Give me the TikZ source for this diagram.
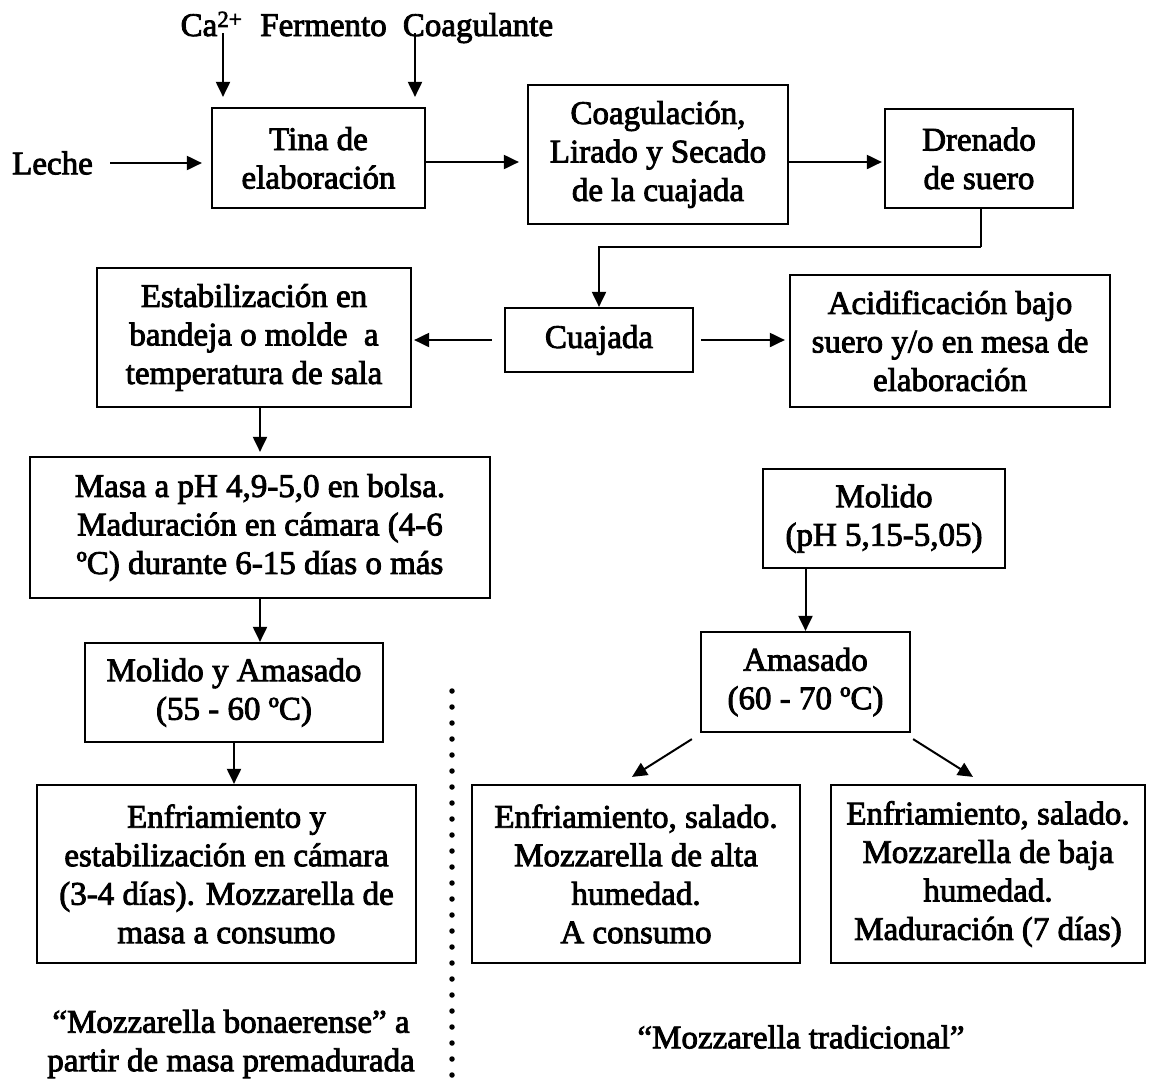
\documentclass[tikz,border=0pt]{standalone}
\usepackage{fontspec}
\setmainfont{Liberation Serif}
\newfontfamily\heavyserif{Liberation Serif}[FakeBold=2.6]
\usetikzlibrary{arrows.meta,calc}

\begin{document}
\begin{tikzpicture}[x=1pt,y=-1pt,
  font=\heavyserif\fontsize{33}{38.5}\selectfont,
  box/.style={draw, line width=2.2pt, align=center, inner sep=0pt},
  label/.style={inner sep=0pt, align=center},
  arr/.style={line width=2pt, -{Triangle[length=15pt,width=14pt]}},
  link/.style={line width=2pt}]
\useasboundingbox (0,0) rectangle (1149,1080);

% top row
\node[label, anchor=base] (ca)    at (211.5,36) {Ca\textsuperscript{2+}};
\node[label, anchor=base] (ferm)  at (323.5,36) {Fermento};
\node[label, anchor=base] (coagl) at (478,36)   {Coagulante};
\node[label] (leche) at (52.5,163) {Leche};

\node[box, minimum width=213, minimum height=100] (tina)  at (318.5,158) {Tina de\\elaboración};
\node[box, minimum width=260, minimum height=139] (coag)  at (658,154.5) {Coagulación,\\Lirado y Secado\\de la cuajada};
\node[box, minimum width=188, minimum height=99]  (dren)  at (979,158.5) {Drenado\\de suero};

% second row
\node[box, minimum width=188, minimum height=64]  (cuaj)  at (599,340)   {Cuajada};
\node[box, minimum width=320, minimum height=132] (acid)  at (950,341)   {Acidificación bajo\\suero y/o en mesa de\\elaboración};
\node[box, minimum width=314, minimum height=139] (estab) at (254,337.5) {Estabilización en\\bandeja o molde\ \ a\\temperatura de sala};

% left branch
\node[box, minimum width=460, minimum height=141] (masa)  at (260,527.5) {Masa a pH 4,9-5,0 en bolsa.\\Maduración en cámara (4-6\\ºC) durante 6-15 días o más};
\node[box, minimum width=298, minimum height=99]  (molam) at (234,692.5) {Molido y Amasado\\(55 - 60 ºC)};
\node[box, minimum width=379, minimum height=178] (enf)   at (226.5,874) {Enfriamiento y\\estabilización en cámara\\(3-4 días). Mozzarella de\\masa a consumo};

% right branch
\node[box, minimum width=242, minimum height=99]  (molido) at (884,518.5) {Molido\\(pH 5,15-5,05)};
\node[box, minimum width=209, minimum height=100] (amas)   at (805.5,682) {Amasado\\(60 - 70 ºC)};
\node[box, minimum width=328, minimum height=178] (alta)   at (636,874)   {Enfriamiento, salado.\\Mozzarella de alta\\humedad.\\A consumo};
\node[box, minimum width=314, minimum height=178] (baja)   at (988,874)   {Enfriamiento, salado.\\Mozzarella de baja\\humedad.\\Maduración (7 días)};

% captions
\node[label] (capA) at (231,1044) {“Mozzarella bonaerense” a\\partir de masa premadurada};
\node[label] (capB) at (801,1037) {“Mozzarella tradicional”};

% inputs to the vat
\coordinate (caIn)   at (223,33);
\coordinate (coagIn) at (415,33);
\draw[arr, shorten >=10pt] (caIn) -- (caIn |- tina.north);
\draw[arr, shorten >=10pt] (coagIn) -- (coagIn |- tina.north);
\draw[arr, shorten <=17pt, shorten >=9pt] (leche.east) -- (leche.east -| tina.west);

% main line
\draw[arr, shorten >=8pt] ([shift={(0,4)}]tina.east) -- ([shift={(0,4)}]tina.east -| coag.west);
\draw[arr, shorten >=2pt] ([shift={(0,4)}]tina.east -| coag.east) -- ([shift={(0,4)}]tina.east -| dren.west);
\coordinate (bend) at (981,247);
\draw[link] ([shift={(2,0)}]dren.south) -- (bend);
\draw[arr] (bend) -| (cuaj.north);
\draw[arr, shorten <=12pt, shorten >=2pt] (cuaj.west) -- (cuaj.west -| estab.east);
\draw[arr, shorten <=7pt, shorten >=4pt] (cuaj.east) -- (cuaj.east -| acid.west);

% left branch
\draw[arr, shorten >=4pt] (masa.north |- estab.south) -- (masa.north);
\draw[arr] (masa.south) -- (masa.south |- molam.north);
\draw[arr] (molam.south) -- (molam.south |- enf.north);

% right branch
\draw[arr] (amas.north |- molido.south) -- (amas.north);
\draw[arr] ([shift={(-8,6)}]amas.south west) -- ([shift={(-4,-7)}]alta.north);
\draw[arr] ([shift={(2,6)}]amas.south east) -- ([shift={(-15,-7)}]baja.north);

% dotted separator
\coordinate (sepTop) at (452,691);
\coordinate (sepBot) at (452,1075);
\draw[line width=5.5pt, line cap=round, dash pattern=on 0pt off 16pt] (sepTop) -- (sepBot);
\end{tikzpicture}
\end{document}
